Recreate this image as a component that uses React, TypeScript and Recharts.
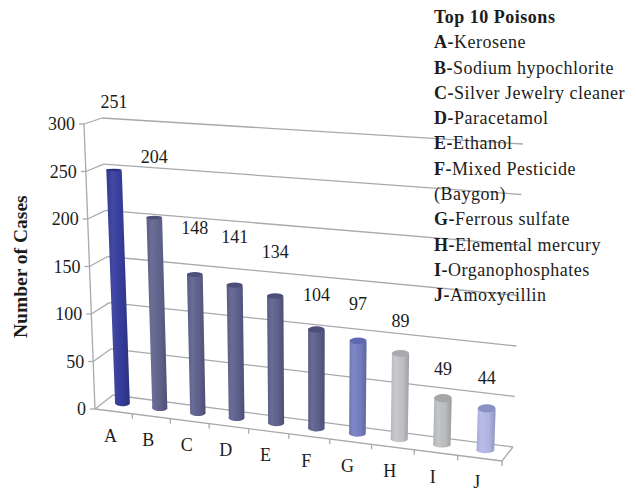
import { Bar, BarChart, CartesianGrid, LabelList, XAxis, YAxis } from "recharts";

const categories = ["A", "B", "C", "D", "E", "F", "G", "H", "I", "J"];
const cases = [251, 204, 148, 141, 134, 104, 97, 89, 49, 44];
const yTicks = [0, 50, 100, 150, 200, 250, 300];
const legendRows = [
	["A", "Kerosene"],
	["B", "Sodium hypochlorite"],
	["C", "Silver Jewelry cleaner"],
	["D", "Paracetamol"],
	["E", "Ethanol"],
	["F", "Mixed Pesticide"],
	["", "(Baygon)"],
	["G", "Ferrous sulfate"],
	["H", "Elemental mercury"],
	["I", "Organophosphates"],
	["J", "Amoxycillin"],
];

const BAR_COLORS = ["#363d9e", "#62668f", "#5f638f", "#5f638f", "#5f638f", "#5f638f", "#7780c4", "#c4c6c9", "#c0c2c4", "#b5bae8"];
const CAP_COLORS = ["#2a2f80", "#4c4f7a", "#4c4f7a", "#4c4f7a", "#4c4f7a", "#4c4f7a", "#5f68b0", "#a8aaad", "#a4a6a8", "#8a8fc4"];
// how far each hand placed number sits above its bar
const LABEL_LIFT = [68, 60, 46, 48, 44, 34, 37, 32, 29, 30];

const GRID_COLOR = "#a7a9ac";
const TEXT_COLOR = "#1c1c1c";
const FONT = "'Liberation Serif', serif";

// flat plot rectangle that recharts lays out
const PLOT = { left: 100, top: 120, width: 400, height: 280 };

// the box the flat plot is mapped on to
const FRONT = { tl: [84, 124], tr: [512, 158], bl: [95, 409], br: [502, 461] };
const BACK = { tl: [102, 118], tr: [523, 144], bl: [113, 395], br: [513, 447] };

const mix = (a: number, b: number, t: number) => a + (b - a) * t;

function project(px: number, py: number, depth: number) {
	const raw = (px - PLOT.left) / PLOT.width;
	const u = raw / (raw + (1 - raw) * 1.1);
	const v = (PLOT.top + PLOT.height - py) / PLOT.height;
	const point = (i: number) => {
		const bottom = mix(mix(FRONT.bl[i], FRONT.br[i], u), mix(BACK.bl[i], BACK.br[i], u), depth);
		const top = mix(mix(FRONT.tl[i], FRONT.tr[i], u), mix(BACK.tl[i], BACK.tr[i], u), depth);
		return mix(bottom, top, v);
	};
	return { x: point(0), y: point(1) };
}

function GridLine(props: any) {
	const y = props.y1;
	const front = project(PLOT.left, y, 0);
	const backLeft = project(PLOT.left, y, 1);
	const backRight = project(PLOT.left + PLOT.width, y, 1);
	const isFloor = Math.abs(y - (PLOT.top + PLOT.height)) < 0.5;
	const frontRight = project(PLOT.left + PLOT.width, y, 0);
	const axisTop = project(PLOT.left, PLOT.top, 0);
	return (
		<g key={`wall-${y}`} stroke={GRID_COLOR} strokeWidth={1.3} fill="none">
			<line x1={front.x} y1={front.y} x2={backLeft.x} y2={backLeft.y} />
			<line x1={backLeft.x} y1={backLeft.y} x2={backRight.x} y2={backRight.y} />
			{isFloor && (
				<>
					<line x1={front.x} y1={front.y} x2={frontRight.x} y2={frontRight.y} />
					<line x1={frontRight.x} y1={frontRight.y} x2={backRight.x} y2={backRight.y} />
					<line x1={front.x} y1={front.y} x2={axisTop.x} y2={axisTop.y} />
				</>
			)}
		</g>
	);
}

function Cylinder(props: any) {
	const { x, y, width, height, index } = props;
	const tl = project(x, y, 0.5);
	const tr = project(x + width, y, 0.5);
	const bl = project(x, y + height, 0.5);
	const br = project(x + width, y + height, 0.5);
	const rx = (tr.x - tl.x) / 2;
	const ry = 1.2 + (tl.y - 170) * 0.0125;
	const body = `M${tl.x} ${tl.y + 1.5}L${bl.x} ${bl.y - 1.5}A${rx} 3.4 0 0 0 ${br.x} ${br.y - 1.5}L${tr.x} ${tr.y + 1.5}Z`;
	return (
		<g>
			<path d={body} fill={BAR_COLORS[index]} />
			<path d={body} fill="url(#cylinderShade)" />
			<ellipse cx={(tl.x + tr.x) / 2} cy={(tl.y + tr.y) / 2 + 1.5} rx={rx} ry={ry} fill={CAP_COLORS[index]} />
		</g>
	);
}

function XTick(props: any) {
	const { x, payload } = props;
	const half = PLOT.width / categories.length / 2;
	const label = project(x, PLOT.top + PLOT.height, 0);
	const mark = project(x + half, PLOT.top + PLOT.height, 0);
	return (
		<g>
			<line x1={mark.x} y1={mark.y} x2={mark.x} y2={mark.y + 5} stroke={GRID_COLOR} strokeWidth={1.3} />
			<text x={label.x - 3} y={label.y + 24} dy="0.35em" textAnchor="middle" fontFamily={FONT} fontSize={18} fill={TEXT_COLOR}>
				{payload.value}
			</text>
		</g>
	);
}

function YTick(props: any) {
	const { y, payload } = props;
	const p = project(PLOT.left, y, 0);
	return (
		<g>
			<line x1={p.x - 5} y1={p.y} x2={p.x} y2={p.y} stroke={GRID_COLOR} strokeWidth={1.3} />
			<text x={p.x - 9} y={p.y} dy="0.35em" textAnchor="end" fontFamily={FONT} fontSize={18} fill={TEXT_COLOR}>
				{payload.value}
			</text>
		</g>
	);
}

function CaseLabel(props: any) {
	const { x, y, width, value, index } = props;
	const p = project(x + width / 2, y, 0.5);
	return (
		<text x={p.x} y={p.y - LABEL_LIFT[index] + 1} dy="0.35em" textAnchor="middle" fontFamily={FONT} fontSize={18} fill={TEXT_COLOR}>
			{value}
		</text>
	);
}

export default function App() {
	const data = categories.map((name, i) => ({ name, cases: cases[i] }));

	return (
		<div style={{ position: "absolute", left: 0, top: 0, width: 636, height: 492, background: "#fff" }}>
			<BarChart
				width={636}
				height={492}
				data={data}
				margin={{ top: PLOT.top, right: 136, bottom: 0, left: 0 }}
				barCategoryGap="30%"
			>
				<defs>
					<linearGradient id="cylinderShade" x1="0" y1="0" x2="1" y2="0">
						<stop offset="0" stopColor="#000" stopOpacity={0.1} />
						<stop offset="0.3" stopColor="#fff" stopOpacity={0.06} />
						<stop offset="0.65" stopColor="#000" stopOpacity={0.03} />
						<stop offset="1" stopColor="#000" stopOpacity={0.2} />
					</linearGradient>
				</defs>
				<CartesianGrid vertical={false} horizontal={GridLine} />
				<XAxis dataKey="name" height={92} interval={0} axisLine={false} tickLine={false} tick={XTick} />
				<YAxis
					width={100}
					domain={[0, 300]}
					ticks={yTicks}
					axisLine={false}
					tickLine={false}
					tick={YTick}
					label={{
						value: "Number of Cases",
						angle: -90,
						position: "insideLeft",
						offset: 20,
						dy: 78,
						style: { fontFamily: FONT, fontSize: 19.5, fontWeight: 700, fill: TEXT_COLOR },
					}}
				/>
				<Bar dataKey="cases" isAnimationActive={false} shape={Cylinder}>
					<LabelList dataKey="cases" content={CaseLabel} />
				</Bar>
			</BarChart>
			<div
				style={{
					position: "absolute",
					left: 434,
					top: 5,
					fontFamily: FONT,
					fontSize: 18,
					lineHeight: "25.3px",
					letterSpacing: 0.5,
					color: TEXT_COLOR,
					whiteSpace: "nowrap",
				}}
			>
				<div style={{ fontWeight: 700 }}>Top 10 Poisons</div>
				{legendRows.map(([letter, name]) => (
					<div key={name}>
						{letter && <b>{letter}-</b>}
						{name}
					</div>
				))}
			</div>
		</div>
	);
}
